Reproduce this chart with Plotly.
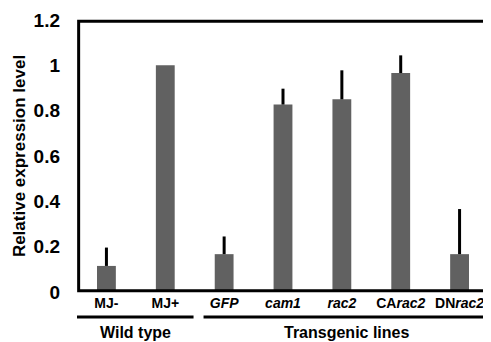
import plotly.graph_objects as go

categories = ["MJ-", "MJ+", "<i>GFP</i>", "<i>cam1</i>", "<i>rac2</i>", "CA<i>rac2</i>", "DN<i>rac2</i>"]
values = [0.115, 1.0, 0.167, 0.827, 0.85, 0.966, 0.167]
errors = [0.081, 0.0, 0.078, 0.07, 0.128, 0.078, 0.199]
groups = ["Wild type", "Transgenic lines"]
y_ticks = [0, 0.2, 0.4, 0.6, 0.8, 1, 1.2]
y_tick_labels = ["0", "0.2", "0.4", "0.6", "0.8", "1", "1.2"]

fig = go.Figure()
fig.add_trace(go.Bar(
    x=list(range(len(categories))), y=values,
    marker=dict(color="#616161", line=dict(width=0)),
    width=0.32,
    error_y=dict(type="data", array=errors, arrayminus=[0]*len(errors),
                 symmetric=False, color="black", thickness=3, width=0),
))

font_family = "Liberation Sans, Arial, sans-serif"
fig.update_layout(
    width=483, height=334,
    margin=dict(l=69, r=2, t=12, b=50),
    plot_bgcolor="white", paper_bgcolor="white",
    showlegend=False,
    font=dict(family=font_family, color="black"),
    xaxis=dict(
        range=[-0.5, len(categories) - 0.5],
        tickvals=list(range(len(categories))),
        ticktext=[f"<b>{c}</b>" for c in categories],
        tickfont=dict(size=14, family=font_family, color="black"),
        showline=False,
        ticks="", showgrid=False, zeroline=False,
        ticklabelstandoff=1,
    ),
    yaxis=dict(
        range=[0, 1.2],
        tickvals=y_ticks,
        ticktext=[f"<b>{t}</b>" for t in y_tick_labels],
        tickfont=dict(size=19, family=font_family, color="black"),
        showline=False,
        ticks="", showgrid=False, zeroline=False,
        ticklabelstandoff=16,
        title=dict(text="<b>Relative expression level</b>",
                   font=dict(size=17, family=font_family, color="black"),
                   standoff=3),
    ),
)

# plot frame, drawn just inside the plot area edges
fig.add_shape(type="rect", xref="paper", yref="paper",
              x0=0.004, x1=0.996, y0=0.005, y1=0.995,
              line=dict(color="black", width=3), layer="above")

# group underline bars and labels
group_spans = [(-0.5, 1.48), (1.65, 6.5)]
for (x0, x1), g in zip(group_spans, groups):
    fig.add_shape(type="line", xref="x", yref="paper", x0=x0, x1=x1,
                  y0=-0.092, y1=-0.092, line=dict(color="black", width=3))
    fig.add_annotation(x=(x0 + x1) / 2, xref="x", y=-0.15, yref="paper",
                       text=f"<b>{g}</b>", showarrow=False,
                       font=dict(size=16, family=font_family, color="black"),
                       yanchor="middle")

fig.write_html("out.html")
